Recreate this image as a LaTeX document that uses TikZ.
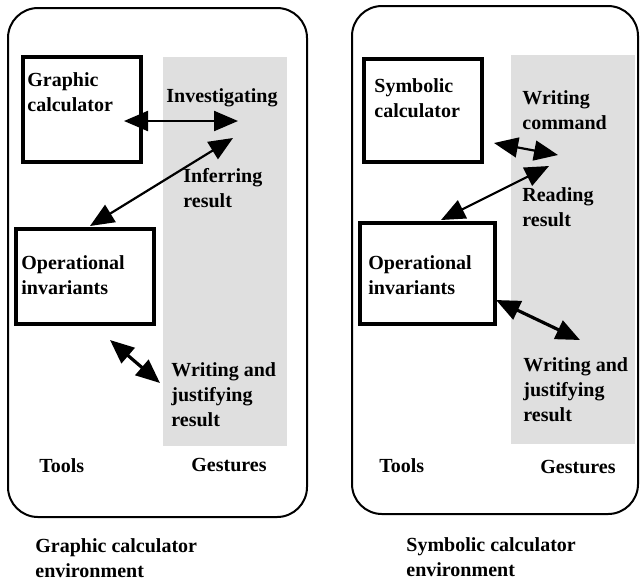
\documentclass[tikz,border=0pt]{standalone}
\usepackage{fontspec}
\setmainfont{Liberation Serif}
\usetikzlibrary{arrows.meta}

\begin{document}
\begin{tikzpicture}[x=0.5pt,y=-0.5pt,
  every node/.style={inner sep=0pt, anchor=north west, align=left,
    font=\bfseries\fontsize{10}{12.5}\selectfont},
  panel/.style={draw, line width=1pt, rounded corners=15pt},
  gesture/.style={fill=gray!25},
  toolbox/.style={draw, line width=2pt},
  link/.style={line width=1.1pt,
    {Triangle[length=12pt,width=10pt]}-{Triangle[length=12pt,width=10pt]}}]

  \useasboundingbox (0,0) rectangle (641,580);

  % graphic calculator environment
  \draw[panel] (8,8) rectangle (307,517);
  \fill[gesture] (163,57) rectangle (287,446);
  \draw[toolbox] (23,57) rectangle (141,162);
  \draw[toolbox] (16,229) rectangle (154,324);

  \node (gcalc)   at (27,72)   {Graphic\\calculator};
  \node (ginv)    at (21,255)  {Operational\\invariants};
  \node (ginvest) at (166,88)  {Investigating};
  \node (ginfer)  at (183,168) {Inferring\\result};
  \node (gjust)   at (171,362) {Writing and\\justifying\\result};
  \node (gtools)  at (39,458)  {Tools};
  \node (ggest)   at (191,458) {Gestures};
  \node (genv)    at (35,538)  {Graphic calculator\\environment};

  \coordinate (ga1) at (124,121); \coordinate (gb1) at (238,121);
  \coordinate (ga2) at (90,226);  \coordinate (gb2) at (233,138);
  \coordinate (ga3) at (110,340); \coordinate (gb3) at (160,383);
  \draw[link] (ga1) -- (gb1);
  \draw[link] (ga2) -- (gb2);
  \draw[link, line width=1.6pt] (ga3) -- (gb3);

  % symbolic calculator environment
  \draw[panel] (352,6) rectangle (638,514);
  \fill[gesture] (511,55) rectangle (635,444);
  \draw[toolbox] (364,59) rectangle (482,162);
  \draw[toolbox] (360,223) rectangle (495,324);

  \node (scalc)  at (374,78)  {Symbolic\\calculator};
  \node (sinv)   at (368,255) {Operational\\invariants};
  \node (swrite) at (522,90)  {Writing\\command};
  \node (sread)  at (522,187) {Reading\\result};
  \node (sjust)  at (523,357) {Writing and\\justifying\\result};
  \node (stools) at (379,458) {Tools};
  \node (sgest)  at (540,460) {Gestures};
  \node (senv)   at (406,537) {Symbolic calculator\\environment};

  \coordinate (sa1) at (494,143); \coordinate (sb1) at (558,155);
  \coordinate (sa2) at (441,220); \coordinate (sb2) at (549,166);
  \coordinate (sa3) at (496,300); \coordinate (sb3) at (580,340);
  \draw[link] (sa1) -- (sb1);
  \draw[link] (sa2) -- (sb2);
  \draw[link, line width=1.6pt] (sa3) -- (sb3);

\end{tikzpicture}
\end{document}
